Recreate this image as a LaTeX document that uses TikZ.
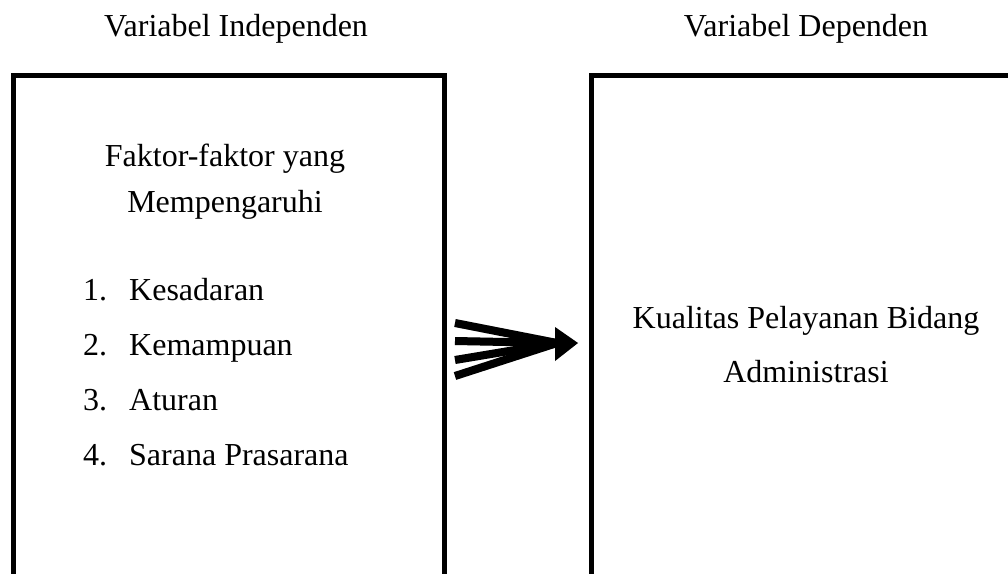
\documentclass[tikz,border=0pt]{standalone}
\usepackage{fontspec}
\setmainfont{Liberation Serif}
\begin{document}
\begin{tikzpicture}[x=1pt,y=-1pt,
  txt/.style={font=\fontsize{32}{38}\selectfont, inner sep=0pt},
  box/.style={draw, line width=5pt, anchor=north west, inner sep=0pt},
  bar/.style={line width=8pt},
  shade/.style={gray!60, opacity=0.5}]
\useasboundingbox (0,0) rectangle (1008,573);
\clip (0,0) rectangle (1008,573);
% boxes
\node[box, minimum width=431pt, minimum height=560pt] (lbox) at (10.5,73) {};
\node[box, minimum width=450pt, minimum height=560pt] (rbox) at (589,73) {};
% headings
\node[txt, anchor=base] (lt) at (236,36) {Variabel Independen};
\node[txt, anchor=base] (rt) at (806,36) {Variabel Dependen};
% left box text
\node[txt, anchor=base] (f1) at (225,166) {Faktor-faktor yang};
\node[txt, anchor=base] (f2) at (225,212) {Mempengaruhi};
\node[txt, anchor=base west] (n1) at (83,300) {1.};
\node[txt, anchor=base west] (i1) at (129,300) {Kesadaran};
\node[txt, anchor=base west] (n2) at (83,355) {2.};
\node[txt, anchor=base west] (i2) at (129,355) {Kemampuan};
\node[txt, anchor=base west] (n3) at (83,410) {3.};
\node[txt, anchor=base west] (i3) at (129,410) {Aturan};
\node[txt, anchor=base west] (n4) at (83,465) {4.};
\node[txt, anchor=base west] (i4) at (129,465) {Sarana Prasarana};
% right box text
\node[txt, anchor=base] (k1) at (806,328) {Kualitas Pelayanan Bidang};
\node[txt, anchor=base] (k2) at (806,382) {Administrasi};
% arrow
\coordinate (a1) at (455,323);
\coordinate (a2) at (455,341);
\coordinate (a3) at (455,360);
\coordinate (a4) at (455,376);
\coordinate (hb) at (557,343);
\coordinate (ht) at (555,327);
\coordinate (hd) at (555,361);
\coordinate (tip) at (578,343);
\begin{scope}[shift={(2.5,3)}, shade]
  \foreach \c in {a1,a2,a3,a4} \draw[bar] (\c) -- (hb);
  \fill (ht) -- (tip) -- (hd) -- cycle;
\end{scope}
\foreach \c in {a1,a2,a3,a4} \draw[bar] (\c) -- (hb);
\fill (ht) -- (tip) -- (hd) -- cycle;
\end{tikzpicture}
\end{document}
